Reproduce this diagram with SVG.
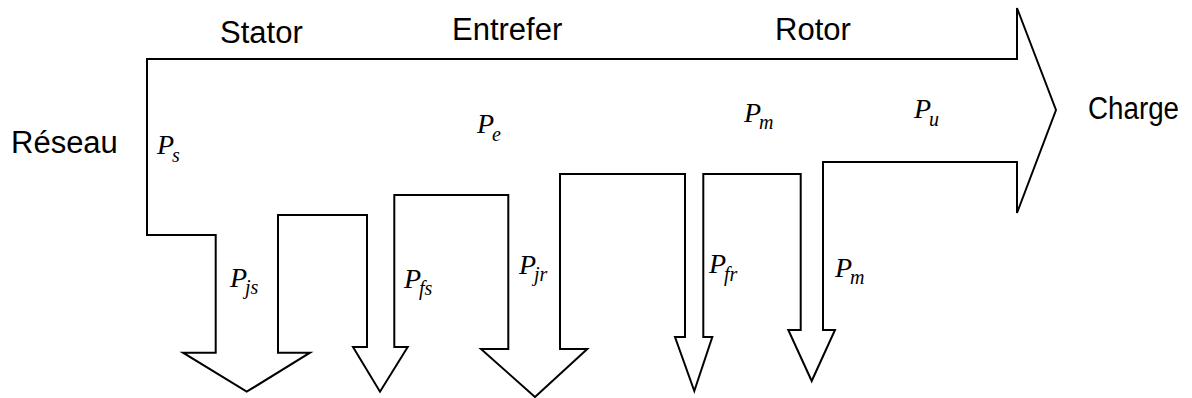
<svg xmlns="http://www.w3.org/2000/svg" width="1192" height="398" viewBox="0 0 1192 398">
<style>
.outline{fill:none;stroke:#000;stroke-width:2;stroke-linejoin:miter}
.t{font-family:"Liberation Sans",Arial,sans-serif;font-size:31px;fill:#000}
.m{font-family:"Liberation Serif","Times New Roman",serif;font-style:italic;font-size:28px;fill:#000}
.sub{font-size:20px}
</style>
<rect width="1192" height="398" fill="#fff"/>
<g id="power-flow">
<path class="outline" d="M147,59 L1017,59 L1017,8 L1056,110 L1017,213 L1017,162 L823,162 L823,330 L835,330 L811.7,381 L788.3,330 L800.7,330 L800.7,174 L703.3,174 L703.3,337 L712.3,337 L694.3,391 L675,337 L685,337 L685,174 L560,174 L560,349 L587.3,349 L535,397 L481,349 L508.3,349 L508.3,195 L394.3,195 L394.3,347 L407.7,347 L380,391.7 L353,347 L367,347 L367,215 L278,215 L278,352.7 L310,352.7 L246.7,391.7 L183,352.7 L215.7,352.7 L215.7,235 L147,235 Z"/>
</g>
<g id="section-labels">
<text id="stator" class="t" x="220" y="43">Stator</text>
<text id="entrefer" class="t" x="452" y="40">Entrefer</text>
<text id="rotor" class="t" x="775" y="40">Rotor</text>
<text id="reseau" class="t" x="11" y="153">Réseau</text>
<text id="charge" class="t" x="1088" y="119" textLength="91" lengthAdjust="spacingAndGlyphs">Charge</text>
</g>
<g id="power-labels">
<text id="Ps" class="m" x="157" y="154">P<tspan class="sub" x="172" y="162">s</tspan></text>
<text id="Pe" class="m" x="477" y="133">P<tspan class="sub" x="492" y="141">e</tspan></text>
<text id="Pm-top" class="m" x="744" y="122">P<tspan class="sub" x="759" y="129">m</tspan></text>
<text id="Pu" class="m" x="914" y="118">P<tspan class="sub" x="929" y="126">u</tspan></text>
<text id="Pjs" class="m" x="230" y="287">P<tspan class="sub" x="245" y="294">js</tspan></text>
<text id="Pfs" class="m" x="404" y="288">P<tspan class="sub" x="419" y="295">fs</tspan></text>
<text id="Pjr" class="m" x="519" y="274">P<tspan class="sub" x="534" y="281">jr</tspan></text>
<text id="Pfr" class="m" x="709" y="273">P<tspan class="sub" x="724" y="281">fr</tspan></text>
<text id="Pm-bottom" class="m" x="835" y="277">P<tspan class="sub" x="850" y="284">m</tspan></text>
</g>
</svg>
